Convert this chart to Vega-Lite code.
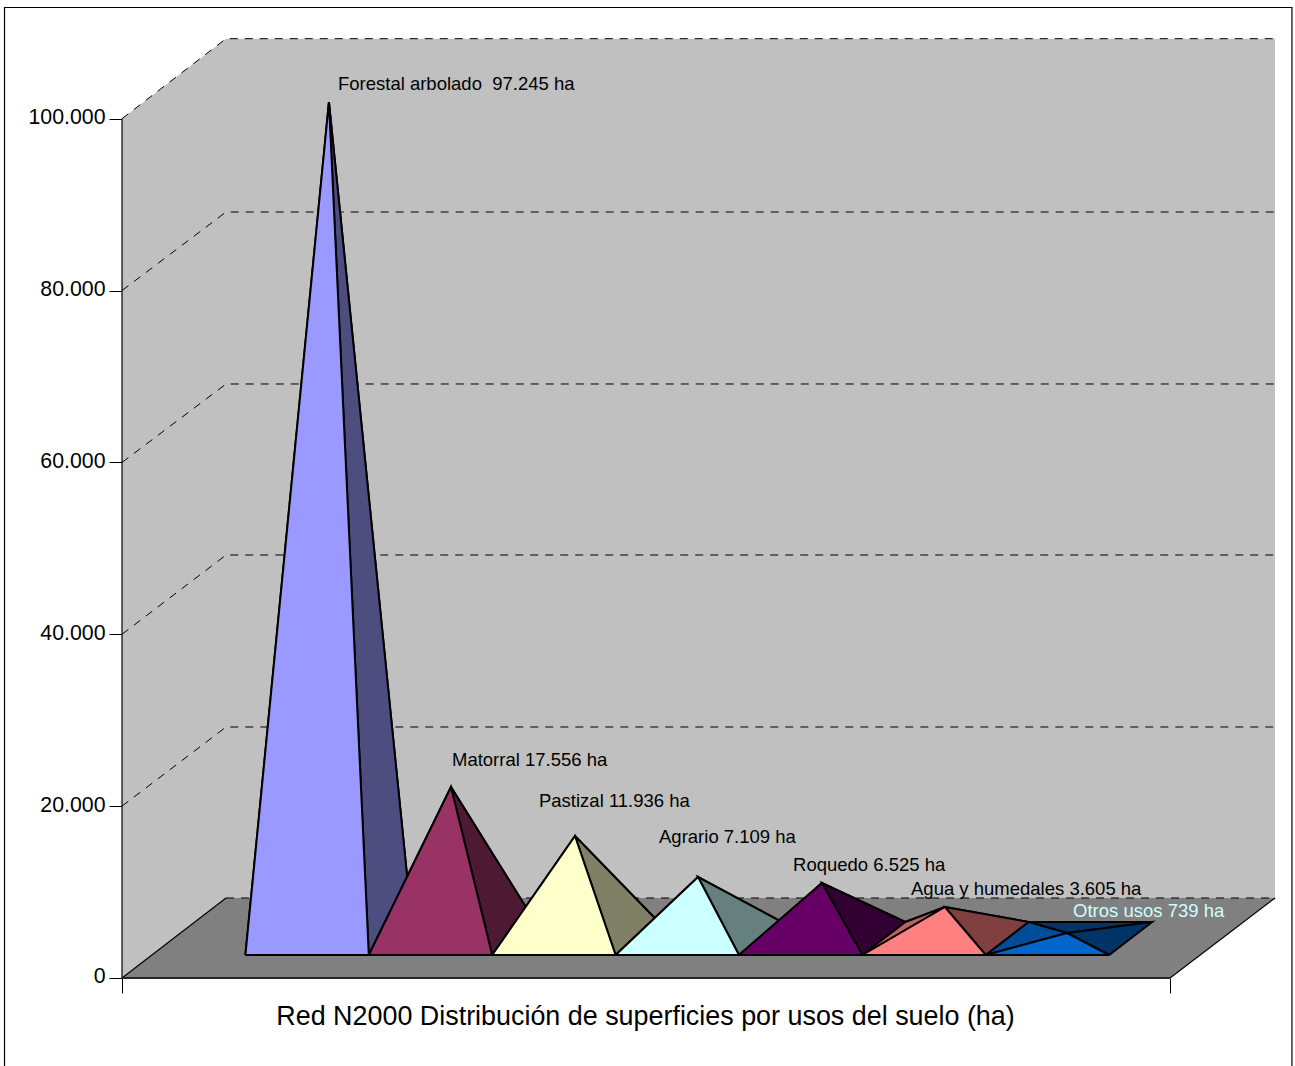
{"$schema":"https://vega.github.io/schema/vega-lite/v6.json","width":1295,"height":1066,"autosize":"none","padding":0,"background":"white","config":{"view":{"stroke":null},"font":"Liberation Sans"},
"datasets":{
"fondo":[
{"parte":"pared","orden":0,"x":0,"y":0},{"parte":"pared","orden":1,"x":0,"y":100000},{"parte":"pared","orden":2,"x":0.843,"y":109310},{"parte":"pared","orden":3,"x":9.344,"y":109310},{"parte":"pared","orden":4,"x":9.344,"y":9310},{"parte":"pared","orden":5,"x":0.843,"y":9310},{"parte":"pared","orden":6,"x":0,"y":0},
{"parte":"suelo","orden":0,"x":0,"y":0},{"parte":"suelo","orden":1,"x":0.843,"y":9310},{"parte":"suelo","orden":2,"x":9.344,"y":9310},{"parte":"suelo","orden":3,"x":8.493,"y":0},{"parte":"suelo","orden":4,"x":0,"y":0}],
"rejilla":[
{"linea":"g20","orden":0,"x":0,"y":20000},{"linea":"g20","orden":1,"x":0.843,"y":29210},{"linea":"g20","orden":2,"x":9.344,"y":29210},
{"linea":"g40","orden":0,"x":0,"y":40000},{"linea":"g40","orden":1,"x":0.843,"y":49226},{"linea":"g40","orden":2,"x":9.344,"y":49226},
{"linea":"g60","orden":0,"x":0,"y":60000},{"linea":"g60","orden":1,"x":0.843,"y":69126},{"linea":"g60","orden":2,"x":9.344,"y":69126},
{"linea":"g80","orden":0,"x":0,"y":80000},{"linea":"g80","orden":1,"x":0.843,"y":89142},{"linea":"g80","orden":2,"x":9.344,"y":89142},
{"linea":"g100","orden":0,"x":0,"y":100000},{"linea":"g100","orden":1,"x":0.843,"y":109310},{"linea":"g100","orden":2,"x":9.344,"y":109310},
{"linea":"g0","orden":0,"x":0.843,"y":9310},{"linea":"g0","orden":1,"x":9.344,"y":9310}],
"bordes":[
{"linea":"marco","orden":0,"x":-0.952,"y":-10241},{"linea":"marco","orden":1,"x":-0.952,"y":112941},{"linea":"marco","orden":2,"x":9.481,"y":112941},{"linea":"marco","orden":3,"x":9.481,"y":-10241},
{"linea":"eje","orden":0,"x":0,"y":0},{"linea":"eje","orden":1,"x":0,"y":100000},
{"linea":"sueloizq","orden":0,"x":0,"y":0},{"linea":"sueloizq","orden":1,"x":0.843,"y":9310},
{"linea":"suelodcha","orden":0,"x":8.493,"y":0},{"linea":"suelodcha","orden":1,"x":9.344,"y":9310},
{"linea":"suelofrente","orden":0,"x":0,"y":0},{"linea":"suelofrente","orden":1,"x":8.493,"y":0}],
"piramides":[
{"parte":"Forestal atras","orden":0,"x":1.348,"y":6517},{"parte":"Forestal atras","orden":1,"x":2.348,"y":6517},{"parte":"Forestal atras","orden":2,"x":1.677,"y":101943},{"parte":"Forestal atras","orden":3,"x":1.348,"y":6517},
{"parte":"Forestal izq","orden":0,"x":1,"y":2677},{"parte":"Forestal izq","orden":1,"x":1.348,"y":6517},{"parte":"Forestal izq","orden":2,"x":1.677,"y":101943},{"parte":"Forestal izq","orden":3,"x":1,"y":2677},
{"parte":"Forestal dcha","orden":0,"x":2,"y":2677},{"parte":"Forestal dcha","orden":1,"x":2.348,"y":6517},{"parte":"Forestal dcha","orden":2,"x":1.677,"y":101943},{"parte":"Forestal dcha","orden":3,"x":2,"y":2677},
{"parte":"Forestal frente","orden":0,"x":1,"y":2677},{"parte":"Forestal frente","orden":1,"x":2,"y":2677},{"parte":"Forestal frente","orden":2,"x":1.677,"y":101943},{"parte":"Forestal frente","orden":3,"x":1,"y":2677},
{"parte":"Matorral atras","orden":0,"x":2.348,"y":6517},{"parte":"Matorral atras","orden":1,"x":3.348,"y":6517},{"parte":"Matorral atras","orden":2,"x":2.666,"y":22227},{"parte":"Matorral atras","orden":3,"x":2.348,"y":6517},
{"parte":"Matorral izq","orden":0,"x":2,"y":2677},{"parte":"Matorral izq","orden":1,"x":2.348,"y":6517},{"parte":"Matorral izq","orden":2,"x":2.666,"y":22227},{"parte":"Matorral izq","orden":3,"x":2,"y":2677},
{"parte":"Matorral dcha","orden":0,"x":3,"y":2677},{"parte":"Matorral dcha","orden":1,"x":3.348,"y":6517},{"parte":"Matorral dcha","orden":2,"x":2.666,"y":22227},{"parte":"Matorral dcha","orden":3,"x":3,"y":2677},
{"parte":"Matorral frente","orden":0,"x":2,"y":2677},{"parte":"Matorral frente","orden":1,"x":3,"y":2677},{"parte":"Matorral frente","orden":2,"x":2.666,"y":22227},{"parte":"Matorral frente","orden":3,"x":2,"y":2677},
{"parte":"Pastizal atras","orden":0,"x":3.348,"y":6517},{"parte":"Pastizal atras","orden":1,"x":4.348,"y":6517},{"parte":"Pastizal atras","orden":2,"x":3.671,"y":16525},{"parte":"Pastizal atras","orden":3,"x":3.348,"y":6517},
{"parte":"Pastizal izq","orden":0,"x":3,"y":2677},{"parte":"Pastizal izq","orden":1,"x":3.348,"y":6517},{"parte":"Pastizal izq","orden":2,"x":3.671,"y":16525},{"parte":"Pastizal izq","orden":3,"x":3,"y":2677},
{"parte":"Pastizal dcha","orden":0,"x":4,"y":2677},{"parte":"Pastizal dcha","orden":1,"x":4.348,"y":6517},{"parte":"Pastizal dcha","orden":2,"x":3.671,"y":16525},{"parte":"Pastizal dcha","orden":3,"x":4,"y":2677},
{"parte":"Pastizal frente","orden":0,"x":3,"y":2677},{"parte":"Pastizal frente","orden":1,"x":4,"y":2677},{"parte":"Pastizal frente","orden":2,"x":3.671,"y":16525},{"parte":"Pastizal frente","orden":3,"x":3,"y":2677},
{"parte":"Agrario atras","orden":0,"x":4.348,"y":6517},{"parte":"Agrario atras","orden":1,"x":5.348,"y":6517},{"parte":"Agrario atras","orden":2,"x":4.668,"y":11754},{"parte":"Agrario atras","orden":3,"x":4.348,"y":6517},
{"parte":"Agrario izq","orden":0,"x":4,"y":2677},{"parte":"Agrario izq","orden":1,"x":4.348,"y":6517},{"parte":"Agrario izq","orden":2,"x":4.668,"y":11754},{"parte":"Agrario izq","orden":3,"x":4,"y":2677},
{"parte":"Agrario dcha","orden":0,"x":5,"y":2677},{"parte":"Agrario dcha","orden":1,"x":5.348,"y":6517},{"parte":"Agrario dcha","orden":2,"x":4.668,"y":11754},{"parte":"Agrario dcha","orden":3,"x":5,"y":2677},
{"parte":"Agrario frente","orden":0,"x":4,"y":2677},{"parte":"Agrario frente","orden":1,"x":5,"y":2677},{"parte":"Agrario frente","orden":2,"x":4.668,"y":11754},{"parte":"Agrario frente","orden":3,"x":4,"y":2677},
{"parte":"Roquedo atras","orden":0,"x":5.348,"y":6517},{"parte":"Roquedo atras","orden":1,"x":6.348,"y":6517},{"parte":"Roquedo atras","orden":2,"x":5.672,"y":11056},{"parte":"Roquedo atras","orden":3,"x":5.348,"y":6517},
{"parte":"Roquedo izq","orden":0,"x":5,"y":2677},{"parte":"Roquedo izq","orden":1,"x":5.348,"y":6517},{"parte":"Roquedo izq","orden":2,"x":5.672,"y":11056},{"parte":"Roquedo izq","orden":3,"x":5,"y":2677},
{"parte":"Roquedo dcha","orden":0,"x":6,"y":2677},{"parte":"Roquedo dcha","orden":1,"x":6.348,"y":6517},{"parte":"Roquedo dcha","orden":2,"x":5.672,"y":11056},{"parte":"Roquedo dcha","orden":3,"x":6,"y":2677},
{"parte":"Roquedo frente","orden":0,"x":5,"y":2677},{"parte":"Roquedo frente","orden":1,"x":6,"y":2677},{"parte":"Roquedo frente","orden":2,"x":5.672,"y":11056},{"parte":"Roquedo frente","orden":3,"x":5,"y":2677},
{"parte":"Agua atras","orden":0,"x":6.348,"y":6517},{"parte":"Agua atras","orden":1,"x":7.348,"y":6517},{"parte":"Agua atras","orden":2,"x":6.669,"y":8263},{"parte":"Agua atras","orden":3,"x":6.348,"y":6517},
{"parte":"Agua izq","orden":0,"x":6,"y":2677},{"parte":"Agua izq","orden":1,"x":6.348,"y":6517},{"parte":"Agua izq","orden":2,"x":6.669,"y":8263},{"parte":"Agua izq","orden":3,"x":6,"y":2677},
{"parte":"Agua dcha","orden":0,"x":7,"y":2677},{"parte":"Agua dcha","orden":1,"x":7.348,"y":6517},{"parte":"Agua dcha","orden":2,"x":6.669,"y":8263},{"parte":"Agua dcha","orden":3,"x":7,"y":2677},
{"parte":"Agua frente","orden":0,"x":6,"y":2677},{"parte":"Agua frente","orden":1,"x":7,"y":2677},{"parte":"Agua frente","orden":2,"x":6.669,"y":8263},{"parte":"Agua frente","orden":3,"x":6,"y":2677},
{"parte":"Otros atras","orden":0,"x":7.348,"y":6517},{"parte":"Otros atras","orden":1,"x":8.348,"y":6517},{"parte":"Otros atras","orden":2,"x":7.658,"y":5237},{"parte":"Otros atras","orden":3,"x":7.348,"y":6517},
{"parte":"Otros izq","orden":0,"x":7,"y":2677},{"parte":"Otros izq","orden":1,"x":7.348,"y":6517},{"parte":"Otros izq","orden":2,"x":7.658,"y":5237},{"parte":"Otros izq","orden":3,"x":7,"y":2677},
{"parte":"Otros dcha","orden":0,"x":8,"y":2677},{"parte":"Otros dcha","orden":1,"x":8.348,"y":6517},{"parte":"Otros dcha","orden":2,"x":7.658,"y":5237},{"parte":"Otros dcha","orden":3,"x":8,"y":2677},
{"parte":"Otros frente","orden":0,"x":7,"y":2677},{"parte":"Otros frente","orden":1,"x":8,"y":2677},{"parte":"Otros frente","orden":2,"x":7.658,"y":5237},{"parte":"Otros frente","orden":3,"x":7,"y":2677}],
"etiquetas":[
{"texto":"Forestal arbolado\u00a0 97.245 ha","grupo":"oscuro","x":1.75,"y":103340},
{"texto":"Matorral 17.556 ha","grupo":"oscuro","x":2.674,"y":24671},
{"texto":"Pastizal 11.936 ha","grupo":"oscuro","x":3.379,"y":19900},
{"texto":"Agrario 7.109 ha","grupo":"oscuro","x":4.352,"y":15711},
{"texto":"Roquedo 6.525 ha","grupo":"oscuro","x":5.438,"y":12452},
{"texto":"Agua y humedales 3.605 ha","grupo":"oscuro","x":6.394,"y":9659},
{"texto":"Otros usos 739 ha","grupo":"claro","x":7.707,"y":7099}]},
"encoding":{
"x":{"field":"x","type":"quantitative","scale":{"domain":[-0.98865,9.5057],"nice":false,"zero":false},"axis":{"orient":"bottom","offset":-88,"values":[0,8.493],"domain":false,"grid":false,"labels":false,"ticks":true,"tickSize":15,"tickColor":"#000000","title":"Red N2000 Distribución de superficies por usos del suelo (ha)","titleFont":"Liberation Sans","titleFontSize":26.9,"titleFontWeight":"normal","titleColor":"#000000","titleX":645,"titleY":46,"titleBaseline":"alphabetic","titleAlign":"center"}},
"y":{"field":"y","type":"quantitative","scale":{"domain":[-10241,113813],"nice":false,"zero":false},"axis":{"orient":"left","offset":-122,"values":[0,20000,40000,60000,80000,100000],"domain":false,"grid":false,"tickSize":13,"tickColor":"#000000","labelFont":"Liberation Sans","labelFontSize":21.3,"labelColor":"#000000","labelPadding":4,"labelOffset":-1,"title":null,"labelExpr":"replace(format(datum.value, ','), ',', '.')"}}},
"layer":[
{"data":{"name":"fondo"},"mark":{"type":"line","filled":true,"strokeWidth":0,"clip":false},"encoding":{"order":{"field":"orden","type":"quantitative"},"detail":{"field":"parte"},"fill":{"field":"parte","type":"nominal","legend":null,"scale":{"domain":["pared","suelo"],"range":["#C0C0C0","#808080"]}}}},
{"data":{"name":"rejilla"},"mark":{"type":"line","stroke":"#000000","strokeWidth":1,"strokeDash":[8,7]},"encoding":{"order":{"field":"orden","type":"quantitative"},"detail":{"field":"linea"}}},
{"data":{"name":"bordes"},"transform":[{"filter":"datum.linea !== 'suelofrente'"}],"mark":{"type":"line","stroke":"#000000","strokeWidth":1.2},"encoding":{"order":{"field":"orden","type":"quantitative"},"detail":{"field":"linea"}}},
{"data":{"name":"bordes"},"transform":[{"filter":"datum.linea === 'suelofrente'"}],"mark":{"type":"line","stroke":"#262626","strokeWidth":2},"encoding":{"order":{"field":"orden","type":"quantitative"},"detail":{"field":"linea"}}},
{"data":{"name":"piramides"},"mark":{"type":"line","filled":true,"stroke":"#000000","strokeWidth":2,"strokeJoin":"miter","strokeMiterLimit":4},"encoding":{"order":{"field":"orden","type":"quantitative"},"detail":{"field":"parte"},"fill":{"field":"parte","type":"nominal","legend":null,"scale":{"domain":["Forestal atras","Forestal izq","Forestal dcha","Forestal frente","Matorral atras","Matorral izq","Matorral dcha","Matorral frente","Pastizal atras","Pastizal izq","Pastizal dcha","Pastizal frente","Agrario atras","Agrario izq","Agrario dcha","Agrario frente","Roquedo atras","Roquedo izq","Roquedo dcha","Roquedo frente","Agua atras","Agua izq","Agua dcha","Agua frente","Otros atras","Otros izq","Otros dcha","Otros frente"],"range":["#4D4D80","#7373BF","#4D4D80","#9999FF","#4D1933","#732649","#4D1933","#993366","#808066","#BFBF99","#808066","#FFFFCC","#668080","#99BFBF","#668080","#CCFFFF","#330033","#4D004D","#330033","#660066","#804040","#BF6060","#804040","#FF8080","#003366","#004C99","#003366","#0066CC"]}}}},
{"data":{"name":"etiquetas"},"mark":{"type":"text","align":"left","baseline":"alphabetic","font":"Liberation Sans","fontSize":18.5},"encoding":{"text":{"field":"texto","type":"nominal"},"color":{"field":"grupo","type":"nominal","legend":null,"scale":{"domain":["oscuro","claro"],"range":["#000000","#CCFFFF"]}}}}
],
"resolve":{"scale":{"fill":"independent"}}}
